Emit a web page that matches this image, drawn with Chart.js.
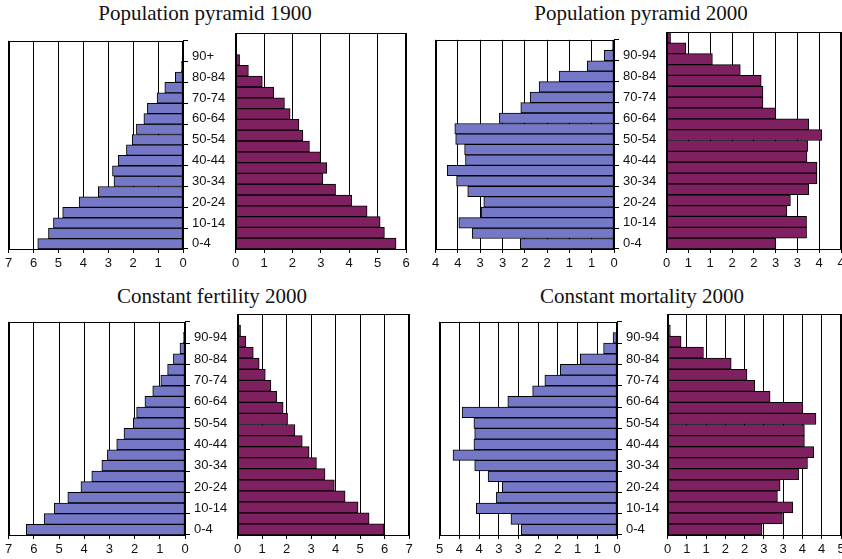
<!DOCTYPE html>
<html>
<head>
<meta charset="utf-8">
<script src="https://cdn.jsdelivr.net/npm/chart.js@4.4.1/dist/chart.umd.min.js"></script>
<style>
  html, body { margin: 0; padding: 0; background: #fff; }
  body { position: relative; width: 842px; height: 559px; overflow: hidden; }
  canvas { position: absolute; }
  .ttl { position: absolute; font-family: "Liberation Serif", "Times New Roman", serif; font-size: 21px; line-height: 21px; white-space: nowrap; transform: translateX(-50%); color: #111; }
</style>
</head>
<body>
<div class="ttl" style="left:205px; top:3px">Population pyramid 1900</div>
<div class="ttl" style="left:641px; top:3px">Population pyramid 2000</div>
<div class="ttl" style="left:212px; top:286px">Constant fertility 2000</div>
<div class="ttl" style="left:642px; top:286px">Constant mortality 2000</div>

<canvas id="p1900L"></canvas><canvas id="p1900R"></canvas>
<canvas id="p2000L"></canvas><canvas id="p2000R"></canvas>
<canvas id="fertL"></canvas><canvas id="fertR"></canvas>
<canvas id="mortL"></canvas><canvas id="mortR"></canvas>

<script>
// age groups, bottom to top
const ages1900 = ['0-4','5-9','10-14','15-19','20-24','25-29','30-34','35-39','40-44','45-49',
  '50-54','55-59','60-64','65-69','70-74','75-79','80-84','85-89','90+',''];
const ages2000 = ['0-4','5-9','10-14','15-19','20-24','25-29','30-34','35-39','40-44','45-49',
  '50-54','55-59','60-64','65-69','70-74','75-79','80-84','85-89','90-94','95+'];

// per cent of population in each age group (left / right half)
const pyr1900Left  = [5.83,5.40,5.20,4.83,4.17,3.40,2.77,2.83,2.60,2.27,2.04,1.87,1.57,1.43,1.04,0.73,0.31,0.07,0.02,0];
const pyr1900Right = [5.65,5.24,5.09,4.63,4.09,3.52,3.07,3.21,2.99,2.60,2.37,2.23,1.92,1.72,1.34,0.94,0.45,0.14,0.04,0];
const pyr2000Left  = [2.10,3.18,3.48,2.98,2.92,3.28,3.53,3.74,3.33,3.35,3.55,3.57,2.57,2.09,1.88,1.68,1.23,0.60,0.22,0.04];
const pyr2000Right = [2.50,3.21,3.21,2.76,2.84,3.26,3.45,3.45,3.22,3.24,3.56,3.26,2.50,2.21,2.21,2.17,1.69,1.05,0.44,0.09];
const fertLeft  = [6.30,5.59,5.19,4.65,4.13,3.70,3.30,3.08,2.71,2.42,2.05,1.92,1.59,1.28,0.96,0.69,0.46,0.20,0.07,0];
const fertRight = [5.98,5.37,4.92,4.39,3.95,3.57,3.22,2.92,2.64,2.34,2.04,1.86,1.60,1.36,1.13,0.88,0.64,0.34,0.12,0];
const mortLeft  = [2.43,2.69,3.57,3.06,2.91,3.27,3.61,4.16,3.63,3.61,3.63,3.93,2.77,2.14,1.83,1.44,0.93,0.34,0.10,0];
const mortRight = [2.45,2.98,3.25,2.85,2.92,3.40,3.63,3.79,3.55,3.55,3.85,3.51,2.66,2.26,2.06,1.65,0.93,0.35,0.07,0];

const BLUE = '#7478c6';
const PURPLE = '#7f2161';
const tickFont = { family: "'Liberation Sans', Arial, sans-serif", size: 13 };

// draws the box round the plot area
const frame = {
  id: 'frame',
  afterDatasetsDraw(chart) {
    const a = chart.chartArea, ctx = chart.ctx;
    ctx.save();
    ctx.strokeStyle = '#000';
    ctx.lineWidth = 1;
    ctx.strokeRect(Math.round(a.left) + 0.5, Math.round(a.top) + 0.5,
      Math.round(a.right - a.left) - 1, Math.round(a.bottom - a.top));
    ctx.restore();
  }
};

const ML = 6, MT = 4, MB = 24, YW = 46;

function side(id, box, labels, values, color, maxX, step, isLeft) {
  const cv = document.getElementById(id);
  const w = (box[2] - box[0]) + ML + (isLeft ? YW : 7);
  const h = (box[3] - box[1]) + MT + MB;
  cv.width = w; cv.height = h;
  cv.style.left = (box[0] - ML) + 'px';
  cv.style.top = (box[1] - MT) + 'px';

  const yScale = {
    display: isLeft,
    position: 'right',
    reverse: true,
    ticks: {
      font: tickFont,
      color: '#111',
      padding: 4,
      autoSkip: false,
      callback: function (v, i) { return i % 2 ? '' : this.getLabelForValue(v); }
    },
    grid: {
      drawOnChartArea: false,
      tickLength: 5,
      color: ctx => (ctx.index % 2 ? 'rgba(0,0,0,0)' : '#000')
    },
    border: { color: '#000' }
  };
  if (isLeft) yScale.afterFit = s => { s.width = YW; };

  new Chart(cv.getContext('2d'), {
    type: 'bar',
    data: {
      labels: labels,
      datasets: [{
        data: values,
        backgroundColor: color,
        borderColor: '#000',
        borderWidth: 1,
        borderSkipped: false,
        barPercentage: 1,
        categoryPercentage: 1
      }]
    },
    options: {
      indexAxis: 'y',
      responsive: false,
      animation: false,
      layout: { padding: { left: ML, top: MT, right: isLeft ? 0 : 7, bottom: 0 } },
      plugins: { legend: { display: false }, tooltip: { enabled: false } },
      scales: {
        x: {
          min: 0,
          max: maxX,
          reverse: isLeft,
          ticks: {
            stepSize: step,
            font: tickFont,
            color: '#111',
            padding: 3,
            maxRotation: 0,
            autoSkip: false,
            callback: v => Math.round(v)
          },
          grid: { color: '#000', lineWidth: 1, tickLength: 4 },
          border: { color: '#000' },
          afterFit: s => { s.height = MB; }
        },
        y: yScale
      }
    },
    plugins: [frame]
  });
}

side('p1900L', [8, 33, 183, 249], ages1900, pyr1900Left, BLUE, 7, 1, true);
side('p1900R', [235, 33, 406, 249], ages1900, pyr1900Right, PURPLE, 6, 1, false);
side('p2000L', [435, 32, 614, 249], ages2000, pyr2000Left, BLUE, 4, 0.5, true);
side('p2000R', [666, 32, 841, 249], ages2000, pyr2000Right, PURPLE, 4, 0.5, false);
side('fertL', [8, 314, 185, 535], ages2000, fertLeft, BLUE, 7, 1, true);
side('fertR', [237, 314, 409, 535], ages2000, fertRight, PURPLE, 7, 1, false);
side('mortL', [439, 314, 617, 535], ages2000, mortLeft, BLUE, 4.5, 0.5, true);
side('mortR', [667, 314, 841, 535], ages2000, mortRight, PURPLE, 4.5, 0.5, false);
</script>
</body>
</html>
